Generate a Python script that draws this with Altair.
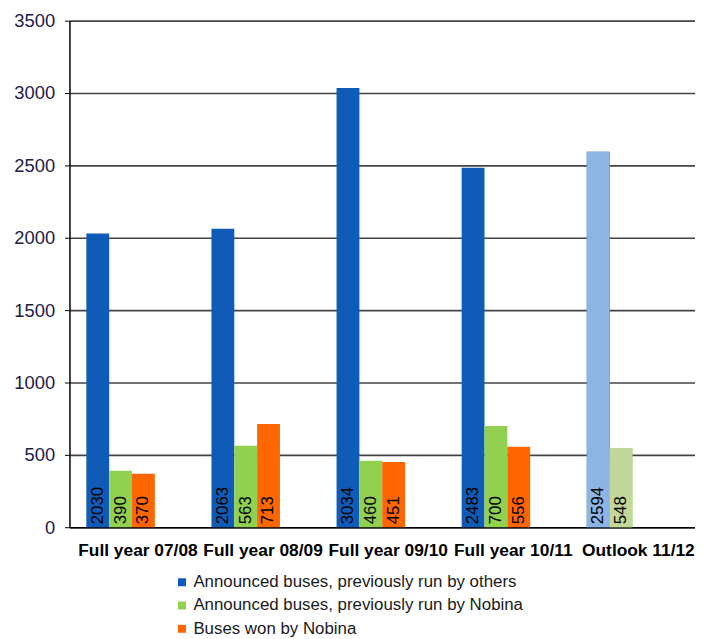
import altair as alt
import pandas as pd

categories = ["Full year 07/08", "Full year 08/09", "Full year 09/10", "Full year 10/11", "Outlook 11/12"]
series = ["Announced buses,  previously run by others",
          "Announced buses,  previously run by Nobina",
          "Buses won by Nobina"]
others = [2030, 2063, 3034, 2483, 2594]
nobina_prev = [390, 563, 460, 700, 548]
won = [370, 713, 451, 556, None]

base_colors = ["#0E5CB8", "#92D050", "#FF6600"]
outlook_colors = ["#8DB4E2", "#C4D79B", "#FFB380"]

rows = []
for i, c in enumerate(categories):
    for j, (s, vals) in enumerate(zip(series, [others, nobina_prev, won])):
        v = vals[i]
        if v is None:
            continue
        fill = outlook_colors[j] if c.startswith("Outlook") else base_colors[j]
        rows.append({"cat": c, "series": s, "value": v, "fill": fill, "zero": 0})
df = pd.DataFrame(rows)

offset_domain = series + ["_pad"]

x = alt.X("cat:N", sort=categories, title=None,
          scale=alt.Scale(paddingInner=0.27, paddingOuter=0.135),
          axis=alt.Axis(labelAngle=0, labelFont="Liberation Sans", labelFontSize=17.5,
                        labelFontWeight="bold", labelColor="#000000", labelPadding=15,
                        labelOffset=6, ticks=False, domainColor="#000000", domainWidth=1.5))
xo = alt.XOffset("series:N", scale=alt.Scale(domain=offset_domain, paddingInner=0, paddingOuter=0))

bars = alt.Chart(df).mark_bar().encode(
    x=x,
    xOffset=xo,
    y=alt.Y("value:Q", title=None,
            scale=alt.Scale(domain=[0, 3500], nice=False),
            axis=alt.Axis(values=[0, 500, 1000, 1500, 2000, 2500, 3000, 3500], format="d",
                          labelFont="Liberation Sans", labelFontSize=18.5, labelColor="#202045",
                          labelPadding=10, tickSize=5, tickColor="#000000",
                          domainColor="#000000", domainWidth=1.5,
                          grid=True, gridColor="#444444", gridWidth=1.6)),
    color=alt.Color("series:N", scale=alt.Scale(domain=series, range=base_colors),
                    legend=alt.Legend(title=None, orient="none", legendX=105, legendY=558,
                                      symbolType="square", symbolSize=64, symbolStrokeWidth=0,
                                      labelFont="Liberation Sans", labelFontSize=17,
                                      labelColor="#1a1a1a", labelOffset=3, rowPadding=5.5,
                                      labelLimit=500)),
)

outlook = alt.Chart(df[df["cat"] == "Outlook 11/12"]).mark_bar().encode(
    x=alt.X("cat:N", sort=categories),
    xOffset=xo,
    y=alt.Y("value:Q"),
    fill=alt.Fill("fill:N", scale=None),
)

labels = alt.Chart(df).mark_text(angle=270, align="left", baseline="middle", dx=3,
                                 font="Liberation Sans", fontSize=17, color="#000000").encode(
    x=alt.X("cat:N", sort=categories),
    xOffset=xo,
    y=alt.Y("zero:Q"),
    text=alt.Text("value:Q"),
)

chart = alt.layer(bars, outlook, labels).resolve_scale(color="independent", fill="independent").properties(
    width=631, height=511,
    autosize=alt.AutoSizeParams(type="none"),
    padding={"left": 62, "top": 10, "right": 0, "bottom": 110},
).configure_view(stroke=None)

chart.save("out.html", embed_options={"renderer": "svg", "actions": False})
